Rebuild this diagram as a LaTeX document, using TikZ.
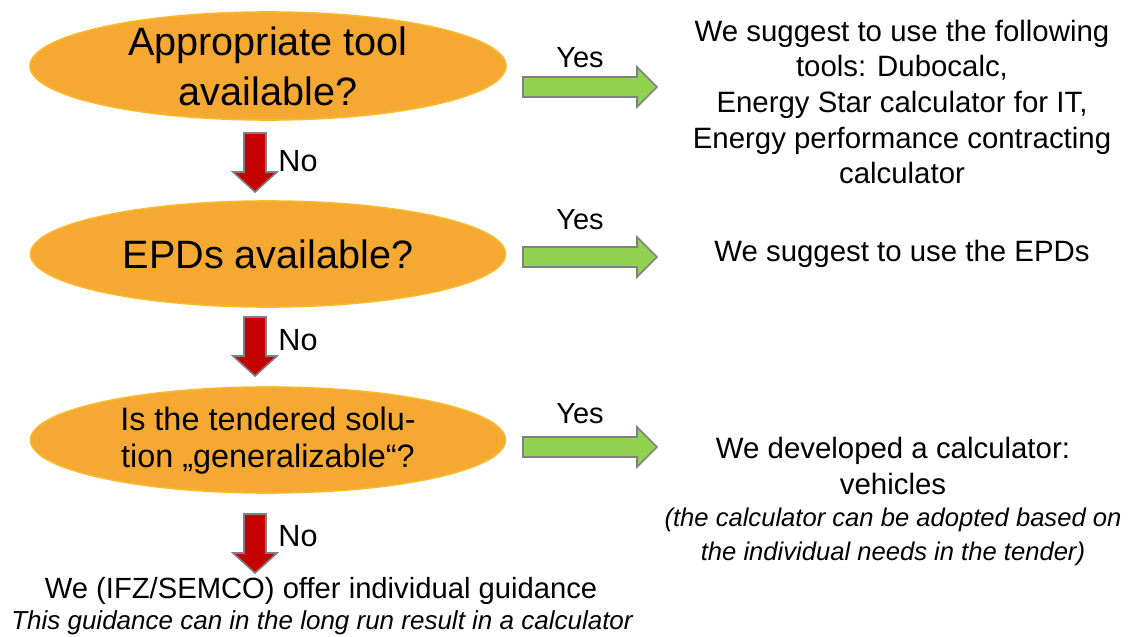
\documentclass[tikz,border=0pt]{standalone}
\usepackage{fontspec}
\setmainfont{Liberation Sans}
\usetikzlibrary{shapes.geometric}
\definecolor{ellfill}{HTML}{F5A933}
\definecolor{elldraw}{HTML}{F8B82A}
\definecolor{arrgreen}{HTML}{92D050}
\definecolor{arrred}{HTML}{C40000}
\definecolor{arrgray}{HTML}{808080}
\tikzset{
  decision/.style={ellipse, fill=ellfill, draw=elldraw, line width=0.8pt, inner sep=0pt},
  qtext/.style={align=center, inner sep=0pt, text=black},
  answer/.style={align=center, inner sep=0pt, text=black, font=\fontsize{14.7}{17.8}\selectfont},
  lbl/.style={inner sep=0pt, text=black},
  garrow/.pic={\draw[fill=arrgreen, draw=arrgray, line width=0.8pt]
     (0,-10) -- (114,-10) -- (114,-20) -- (134,0) -- (114,20) -- (114,10) -- (0,10) -- cycle;},
  rarrow/.pic={\draw[fill=arrred, draw=arrgray, line width=0.8pt]
     (-11,0) -- (11,0) -- (11,39) -- (22,39) -- (0,59) -- (-22,39) -- (-11,39) -- cycle;}
}
\begin{document}
\begin{tikzpicture}[x=0.5pt,y=-0.5pt]
\useasboundingbox (0,0) rectangle (1132,637);
% decisions
\node[decision, minimum width=238pt, minimum height=54pt] (e1) at (268,66) {};
\node[decision, minimum width=237.5pt, minimum height=53pt] (e2) at (268,254) {};
\node[decision, minimum width=237.5pt, minimum height=53pt] (e3) at (268,440) {};
\node[qtext, font=\fontsize{19.8}{25}\selectfont] (t1) at (e1) {Appropriate tool\\available?};
\node[qtext, font=\fontsize{19.8}{25}\selectfont] (t2) at (e2) {EPDs available?};
\node[qtext, font=\fontsize{16.2}{18.5}\selectfont] (t3) at (268,441) {Is the tendered solu-\\tion „generalizable“?};
% down arrows (No)
\pic at (255,133) {rarrow};
\pic at (255,317) {rarrow};
\pic at (255,514) {rarrow};
\node[lbl, font=\fontsize{15.3}{18}\selectfont] (n1) at (298,161) {No};
\node[lbl, font=\fontsize{15.3}{18}\selectfont] (n2) at (298,340) {No};
\node[lbl, font=\fontsize{15.3}{18}\selectfont] (n3) at (298,536) {No};
% right arrows (Yes)
\pic at (523,87) {garrow};
\pic at (523,257) {garrow};
\pic at (523,447) {garrow};
\node[lbl, font=\fontsize{14.5}{17}\selectfont] (y1) at (580,58) {Yes};
\node[lbl, font=\fontsize{14.5}{17}\selectfont] (y2) at (580,220) {Yes};
\node[lbl, font=\fontsize{14.5}{17}\selectfont] (y3) at (580,414) {Yes};
% answers
\node[answer] (a1) at (902,102) {We suggest to use the following\\tools: Dubocalc,\\Energy Star calculator for IT,\\Energy performance contracting\\calculator};
\node[answer] (a2) at (902,254) {We suggest to use the EPDs};
\node[answer, anchor=north] (a3) at (893,437) {We developed a calculator:\\vehicles\\[-1.5pt]
  {\fontsize{12.8}{15.8}\selectfont\itshape (the calculator can be adopted based on}\\[-1pt]
  {\fontsize{12.8}{15.8}\selectfont\itshape the individual needs in the tender)}};
% bottom
\node[lbl, font=\fontsize{14.6}{17}\selectfont] (b1) at (321,591) {We (IFZ/SEMCO) offer individual guidance};
\node[lbl, font=\itshape\fontsize{13}{15}\selectfont] (b2) at (322,623) {This guidance can in the long run result in a calculator};
\end{tikzpicture}
\end{document}
